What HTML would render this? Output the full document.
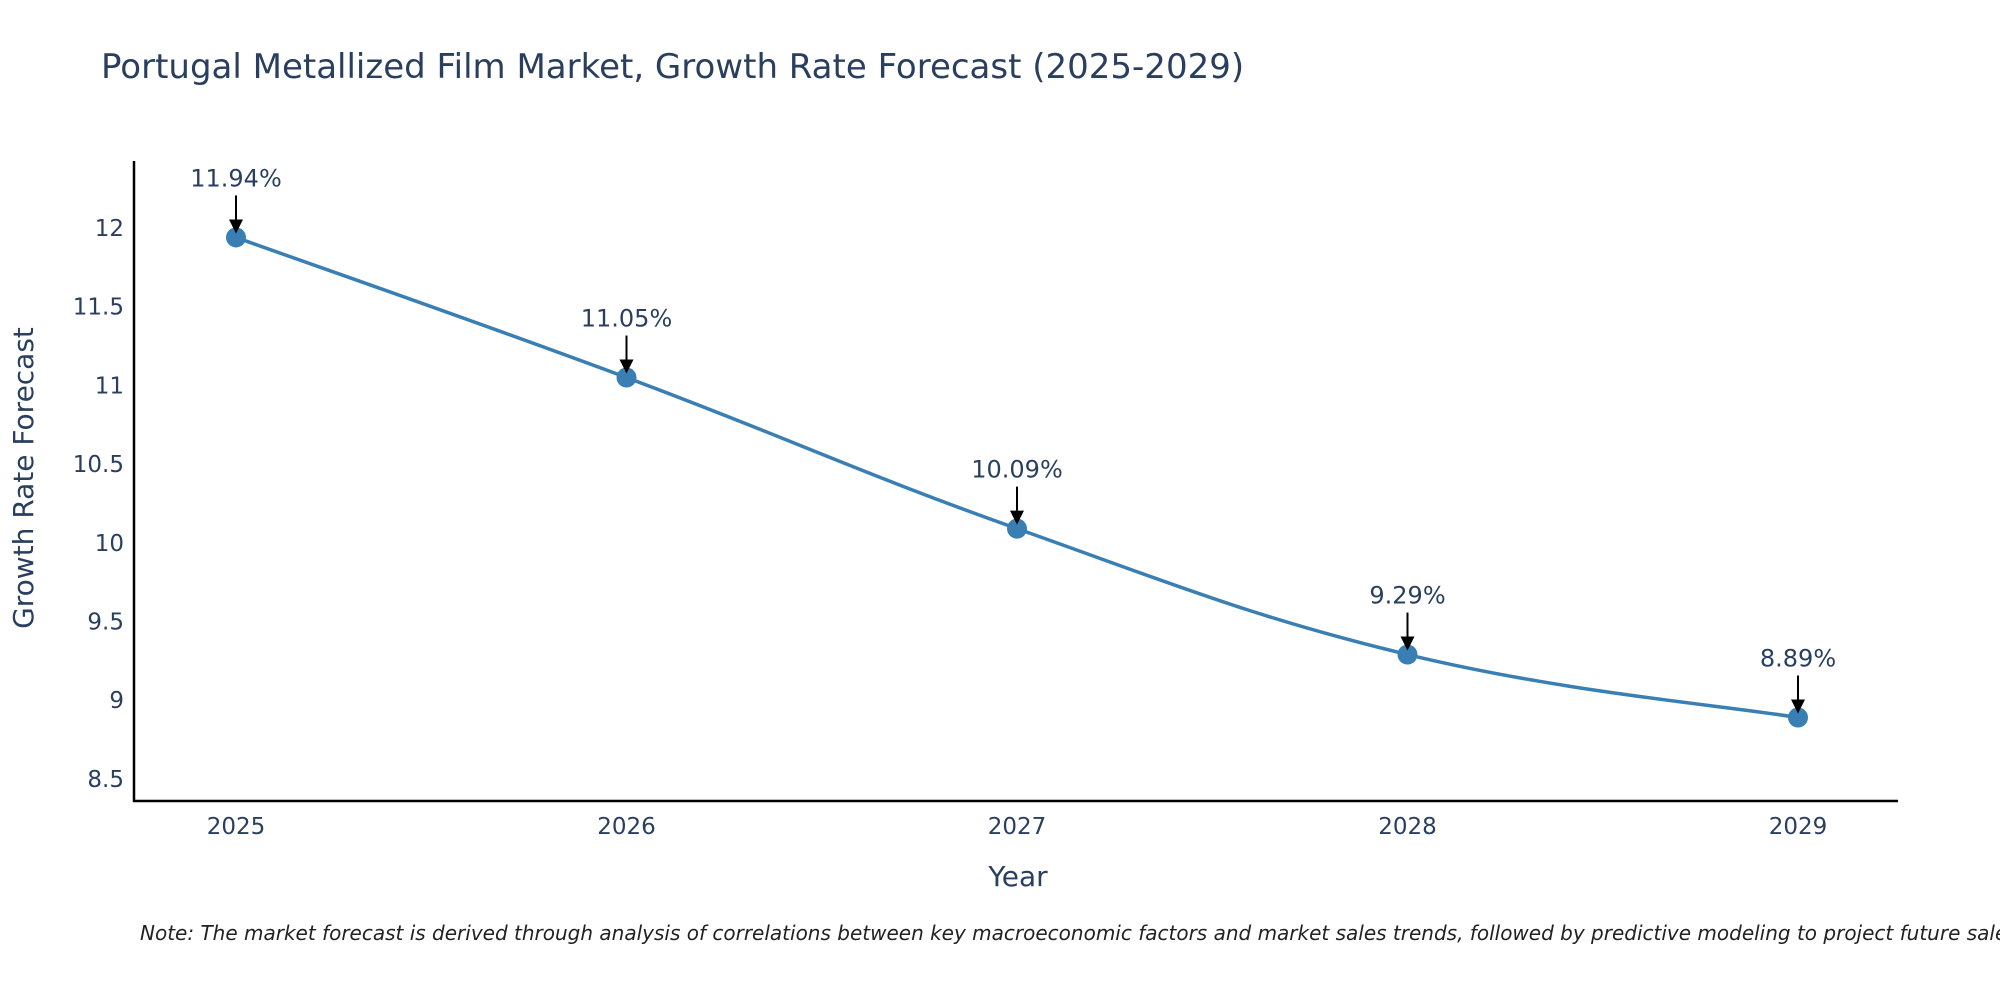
<!DOCTYPE html>
<html><head><meta charset="utf-8"><style>
html,body{margin:0;padding:0;background:#fff;}
svg{display:block;font-family:"DejaVu Sans","Liberation Sans",sans-serif;}
</style></head><body>
<svg id="chart" width="2000" height="1000" viewBox="0 0 2000 1000">
<text x="101" y="78" font-size="34" fill="#2a3f5f">Portugal Metallized Film Market, Growth Rate Forecast (2025-2029)</text>
<g id="yticks"></g>
<g id="xticks"></g>
<line x1="134" y1="161" x2="134" y2="802" stroke="#000" stroke-width="2.5"/>
<line x1="133" y1="801" x2="1898" y2="801" stroke="#000" stroke-width="2.5"/>
<path id="series-line" fill="none" stroke="#3a7fb4" stroke-width="3.5"/>
<g id="points"></g>
<g id="annots"></g>
<text x="33" y="478" font-size="28" fill="#2a3f5f" text-anchor="middle" transform="rotate(-90 33 478)">Growth Rate Forecast</text>
<text x="1018" y="886" font-size="28" fill="#2a3f5f" text-anchor="middle">Year</text>
<text x="140" y="940" font-size="20" font-style="italic" fill="#222">Note: The market forecast is derived through analysis of correlations between key macroeconomic factors and market sales trends, followed by predictive modeling to project future sales</text>
</svg>
<script>
const years = ["2025","2026","2027","2028","2029"];
const growth = [11.94, 11.05, 10.09, 9.29, 8.89];
const labels = ["11.94%","11.05%","10.09%","9.29%","8.89%"];
const yTickVals = [8.5, 9, 9.5, 10, 10.5, 11, 11.5, 12];
const yTickLabels = ["8.5","9","9.5","10","10.5","11","11.5","12"];

const NS = "http://www.w3.org/2000/svg";
function xPos(i){ return 236 + i * (1798 - 236) / (years.length - 1); }
function yPos(v){ return 228 + (12 - v) * 157.4; }
function mk(tag, attrs, parent){ const e = document.createElementNS(NS, tag); for (const k in attrs) e.setAttribute(k, attrs[k]); parent.appendChild(e); return e; }

const yt = document.getElementById("yticks");
yTickVals.forEach((v, i) => {
  const t = mk("text", {x: 124, y: yPos(v) + 8, "font-size": 23, fill: "#2a3f5f", "text-anchor": "end"}, yt);
  
  
  t.textContent = yTickLabels[i];
});
const xt = document.getElementById("xticks");
years.forEach((y, i) => {
  const t = mk("text", {x: xPos(i), y: 834, "font-size": 23, fill: "#2a3f5f", "text-anchor": "middle"}, xt);
  
  
  t.textContent = y;
});

const pts = growth.map((v, i) => [xPos(i), yPos(v)]);
let d = "M" + pts[0][0] + "," + pts[0][1];
const s = 0.2;
for (let i = 0; i < pts.length - 1; i++) {
  const p0 = pts[Math.max(0, i - 1)], p1 = pts[i], p2 = pts[i + 1], p3 = pts[Math.min(pts.length - 1, i + 2)];
  const c1 = [p1[0] + (p2[0] - p0[0]) * s, p1[1] + (p2[1] - p0[1]) * s];
  const c2 = [p2[0] - (p3[0] - p1[0]) * s, p2[1] - (p3[1] - p1[1]) * s];
  d += " C" + c1.join(",") + " " + c2.join(",") + " " + p2.join(",");
}
document.getElementById("series-line").setAttribute("d", d);

const pg = document.getElementById("points");
const ag = document.getElementById("annots");
pts.forEach((p, i) => {
  const c = mk("circle", {cx: p[0], cy: p[1], r: 10, fill: "#3a7fb4"}, pg);
  
  
  const ln = mk("line", {x1: p[0], y1: p[1] - 42, x2: p[0], y2: p[1] - 18, stroke: "#000", "stroke-width": 2}, ag);
  
  
  const hd = mk("polygon", {points: (p[0]-7)+","+(p[1]-18)+" "+(p[0]+7)+","+(p[1]-18)+" "+p[0]+","+(p[1]-4), fill: "#000"}, ag);
  
  
  const t = mk("text", {x: p[0], y: p[1] - 51, "font-size": 24, fill: "#2a3f5f", "text-anchor": "middle"}, ag);
  
  
  t.textContent = labels[i];
});
</script>
</body></html>
